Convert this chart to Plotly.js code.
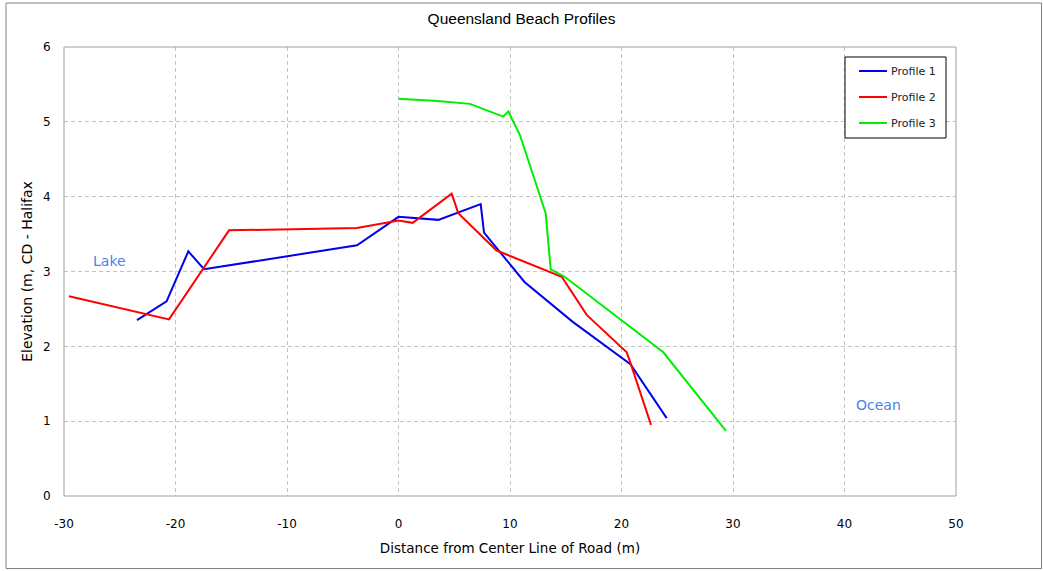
<!DOCTYPE html>
<html><head><meta charset="utf-8">
<script src="https://cdn.plot.ly/plotly-3.0.1.min.js"></script>
<style>html,body{margin:0;padding:0;background:#fff;}#chart{width:1043px;height:571px;}</style>
</head><body><div id="chart"></div>
<script>
const p1x = [-23.45, -20.8, -18.85, -17.44, -3.72, 0.0, 3.57, 7.37, 7.67, 8.6, 11.3, 15.6, 20.8, 24.05];
const p1y = [2.35, 2.60, 3.27, 3.03, 3.35, 3.73, 3.69, 3.90, 3.52, 3.35, 2.86, 2.33, 1.76, 1.04];
const p2x = [-29.55, -20.58, -15.2, -3.72, 0.0, 1.27, 4.77, 5.36, 8.8, 14.64, 16.88, 20.47, 20.8, 22.65];
const p2y = [2.67, 2.36, 3.55, 3.58, 3.68, 3.65, 4.04, 3.78, 3.28, 2.93, 2.42, 1.92, 1.78, 0.95];
const p3x = [0.0, 3.5, 6.41, 9.4, 9.85, 10.9, 13.2, 13.65, 14.9, 23.75, 29.37];
const p3y = [5.31, 5.28, 5.24, 5.07, 5.14, 4.82, 3.78, 3.03, 2.93, 1.92, 0.87];
const names = ['Profile 1', 'Profile 2', 'Profile 3'];
const colors = ['#0000ee', '#ff0000', '#00ee00'];
const xTicks = [-30, -20, -10, 0, 10, 20, 30, 40, 50];
const yTicks = [0, 1, 2, 3, 4, 5, 6];

const xs = [p1x, p2x, p3x], ys = [p1y, p2y, p3y];
const traces = xs.map((x, i) => ({
  x: x, y: ys[i], type: 'scatter', mode: 'lines', name: names[i],
  line: {color: colors[i], width: 2}, showlegend: false
}));

// plot area in px: left 64, right 956, top 47, bottom 496
const W = 892, H = 449;
const px = v => (v - 64) / W;
const py = v => (496 - v) / H;

const shapes = [
  {type: 'rect', xref: 'paper', yref: 'paper', x0: px(6), x1: px(1041.5), y0: py(568.5), y1: py(3),
   line: {color: '#808080', width: 1}, fillcolor: 'rgba(0,0,0,0)', layer: 'below'},
  {type: 'rect', xref: 'paper', yref: 'paper', x0: 0, x1: 1, y0: 0, y1: 1,
   line: {color: '#a0a0a0', width: 1}, fillcolor: 'rgba(0,0,0,0)'},
  {type: 'rect', xref: 'paper', yref: 'paper', x0: px(845), x1: px(946), y0: py(138), y1: py(57),
   line: {color: '#000', width: 1}, fillcolor: '#fff'}
];
const annotations = [
  {text: 'Lake', xref: 'paper', yref: 'paper', x: px(109), y: py(261), xanchor: 'center', yanchor: 'middle',
   showarrow: false, font: {family: 'DejaVu Sans', size: 14, color: '#4f7fe8'}},
  {text: 'Ocean', xref: 'paper', yref: 'paper', x: px(878), y: py(405), xanchor: 'center', yanchor: 'middle',
   showarrow: false, font: {family: 'DejaVu Sans', size: 14, color: '#4f7fe8'}}
];
const legY = [71, 97, 123];
names.forEach((n, i) => {
  shapes.push({type: 'line', xref: 'paper', yref: 'paper', x0: px(859), x1: px(887), y0: py(legY[i]), y1: py(legY[i]),
    line: {color: colors[i], width: 2}});
  annotations.push({text: n, xref: 'paper', yref: 'paper', x: px(889), y: py(legY[i]), xanchor: 'left', yanchor: 'middle',
    showarrow: false, font: {family: 'DejaVu Sans', size: 11, color: '#222'}});
});

const layout = {
  width: 1043, height: 571,
  margin: {l: 64, r: 87, t: 47, b: 75},
  paper_bgcolor: 'rgba(0,0,0,0)', plot_bgcolor: 'rgba(0,0,0,0)',
  font: {family: 'DejaVu Sans', size: 12, color: '#000'},
  title: {text: 'Queensland Beach Profiles', x: 0.5, xanchor: 'center', y: 1 - 19/571, yanchor: 'middle',
    font: {family: 'Liberation Sans, Arial', size: 15.5, color: '#000'}},
  xaxis: {range: [-30, 50], tickvals: xTicks, ticktext: xTicks.map(String), showgrid: true,
    gridcolor: '#c4c4c4', griddash: '4px,3px', gridwidth: 1, zeroline: false, showline: false,
    ticks: 'outside', ticklen: 17, tickcolor: 'rgba(0,0,0,0)', tickfont: {family: 'DejaVu Sans', size: 12},
    title: {text: 'Distance from Center Line of Road (m)', standoff: 13, font: {family: 'DejaVu Sans', size: 13.5}}},
  yaxis: {range: [0, 6], tickvals: yTicks, ticktext: yTicks.map(String), showgrid: true,
    gridcolor: '#c4c4c4', griddash: '4px,3px', gridwidth: 1, zeroline: false, showline: false,
    ticks: 'outside', ticklen: 10, tickcolor: 'rgba(0,0,0,0)', tickfont: {family: 'DejaVu Sans', size: 12},
    title: {text: 'Elevation (m, CD - Halifax', standoff: 7, font: {family: 'DejaVu Sans', size: 14}}},
  shapes: shapes, annotations: annotations, showlegend: false
};
Plotly.newPlot('chart', traces, layout, {displayModeBar: false, staticPlot: true});
</script></body></html>
